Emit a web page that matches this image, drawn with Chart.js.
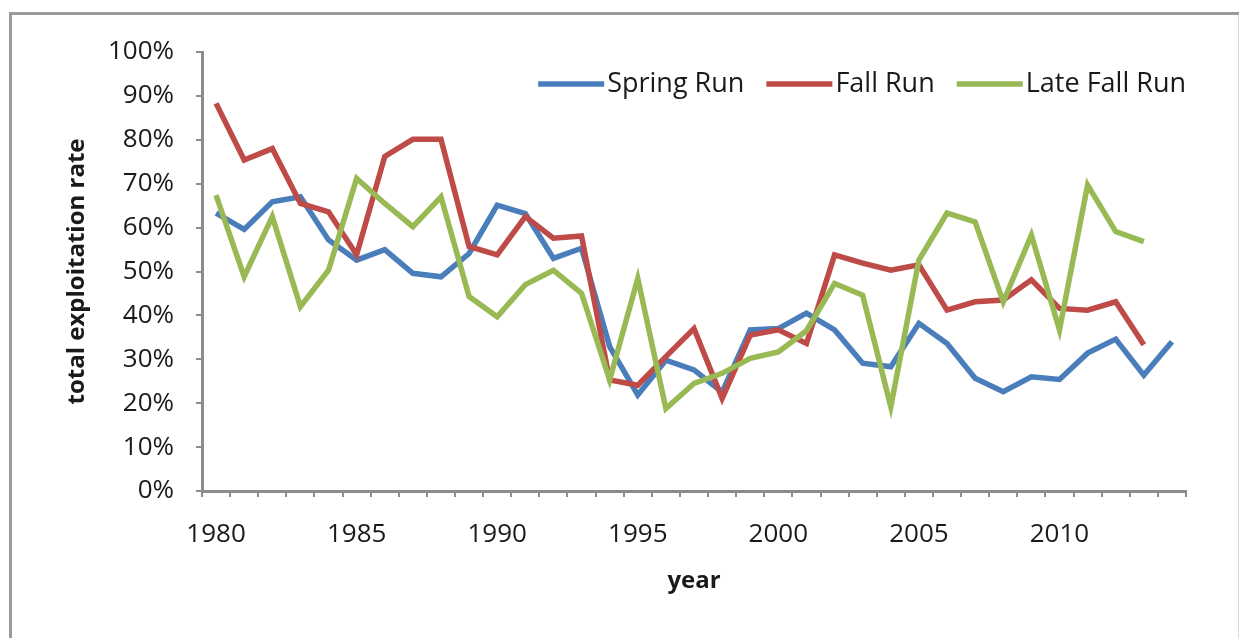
<!DOCTYPE html>
<html lang="en">
<head>
  <meta charset="UTF-8">
  <title>Total exploitation rate by run</title>
  <script src="https://cdn.jsdelivr.net/npm/chart.js"></script>
  <style>
    body { margin: 0; background: #fff; }
    .wrap { position: relative; width: 1239px; height: 638px; overflow: hidden; }
    .frame { position: absolute; left: 9px; top: 12px; width: 1226px; height: 700px; border: 3px solid #9a9a9a; border-right-color: #d8d8d8; }
    canvas { position: absolute; left: 0; top: 0; }
  </style>
</head>
<body>
  <div class="wrap">
    <div class="frame"></div>
    <canvas id="runChart" width="1239" height="638"></canvas>
  </div>
  <script>
    const years = [1980, 1981, 1982, 1983, 1984, 1985, 1986, 1987, 1988, 1989,
                   1990, 1991, 1992, 1993, 1994, 1995, 1996, 1997, 1998, 1999,
                   2000, 2001, 2002, 2003, 2004, 2005, 2006, 2007, 2008, 2009,
                   2010, 2011, 2012, 2013, 2014];
    const springRun = [63.3, 59.6, 65.9, 67, 57.2, 52.6, 55, 49.6, 48.8, 54.1,
                       65.1, 63.2, 53, 55.3, 32.9, 21.9, 29.8, 27.6, 22.5, 36.7,
                       37, 40.5, 36.7, 29.1, 28.3, 38.2, 33.6, 25.7, 22.6, 26,
                       25.4, 31.4, 34.6, 26.4, 34];
    const fallRun = [88.3, 75.4, 78, 65.5, 63.6, 53.8, 76.2, 80.1, 80.1, 55.7,
                     53.8, 62.5, 57.6, 58.1, 25.3, 24.1, 30.6, 37, 21.1, 35.5,
                     36.7, 33.6, 53.8, 51.9, 50.3, 51.5, 41.2, 43.1, 43.5, 48.1,
                     41.6, 41.2, 43.1, 33.3, null];
    const lateFallRun = [67.4, 48.8, 62.5, 42, 50.3, 71.2, 65.5, 60.2, 67, 44.3,
                         39.7, 47, 50.3, 45, 25.3, 48.4, 18.8, 24.5, 26.8, 30.2,
                         31.7, 36.5, 47.3, 44.6, 19.2, 52.6, 63.3, 61.3, 43.1, 58.3,
                         36.7, 69.7, 59.1, 56.8, null];
    const yTicks = [0, 10, 20, 30, 40, 50, 60, 70, 80, 90, 100];

    const font = 'Open Sans';
    const textColor = '#1a1a1a';
    const axisColor = '#8c8c8c';
    const lineStyle = { borderWidth: 5.5, pointRadius: 0, tension: 0, fill: false };

    // Excel-style legend sitting inside the plot, top right
    const insideLegend = {
      id: 'insideLegend',
      afterDatasetsDraw(chart) {
        const ctx = chart.ctx;
        const area = chart.chartArea;
        const sets = chart.data.datasets;
        const lineW = 66, gap = 3, itemGap = 22, y = 84;
        ctx.save();
        ctx.font = '27px "' + font + '"';
        ctx.textBaseline = 'middle';
        let x = area.right;
        for (let i = sets.length - 1; i >= 0; i--) {
          const w = ctx.measureText(sets[i].label).width;
          x -= w;
          ctx.fillStyle = textColor;
          ctx.fillText(sets[i].label, x, y);
          x -= gap;
          ctx.strokeStyle = sets[i].borderColor;
          ctx.lineWidth = 5.5;
          ctx.beginPath();
          ctx.moveTo(x - lineW, y);
          ctx.lineTo(x, y);
          ctx.stroke();
          x -= lineW + itemGap;
        }
        ctx.restore();
      }
    };

    new Chart(document.getElementById('runChart'), {
      type: 'line',
      data: {
        labels: years,
        datasets: [
          { label: 'Spring Run', data: springRun, borderColor: '#4a7ebb', backgroundColor: '#4a7ebb', order: 3, ...lineStyle },
          { label: 'Fall Run', data: fallRun, borderColor: '#be4b48', backgroundColor: '#be4b48', order: 2, ...lineStyle },
          { label: 'Late Fall Run', data: lateFallRun, borderColor: '#98b954', backgroundColor: '#98b954', order: 1, ...lineStyle }
        ]
      },
      options: {
        responsive: false,
        animation: false,
        layout: { padding: { top: 52, right: 53, left: 0, bottom: 0 } },
        plugins: {
          tooltip: { enabled: false },
          legend: { display: false }
        },
        scales: {
          x: {
            type: 'category',
            offset: true,
            grid: { offset: true, drawOnChartArea: false, tickLength: 6, color: axisColor, lineWidth: 2 },
            border: { color: axisColor, width: 3 },
            ticks: {
              autoSkip: false,
              maxRotation: 0,
              padding: 22,
              color: textColor,
              font: { family: font, size: 26 },
              callback: function (v, i) { return years[i] % 5 === 0 ? String(years[i]) : ''; }
            },
            title: { display: true, text: 'year', color: textColor, font: { family: font, size: 24, weight: 'bold' }, padding: { top: 42, bottom: 42 } },
            afterFit: s => { s.height = 147; }
          },
          y: {
            min: 0,
            max: 100,
            afterBuildTicks: s => { s.ticks = yTicks.map(v => ({ value: v })); },
            grid: { drawOnChartArea: false, tickLength: 6, color: axisColor, lineWidth: 2 },
            border: { color: axisColor, width: 3 },
            ticks: {
              padding: 22,
              color: textColor,
              font: { family: font, size: 26 },
              callback: v => v + '%'
            },
            title: { display: true, text: 'total exploitation rate', color: textColor, font: { family: font, size: 24, weight: 'bold' }, padding: { top: 63, bottom: 63 } },
            afterFit: s => { s.width = 202; }
          }
        }
      },
      plugins: [insideLegend]
    });
  </script>
</body>
</html>
